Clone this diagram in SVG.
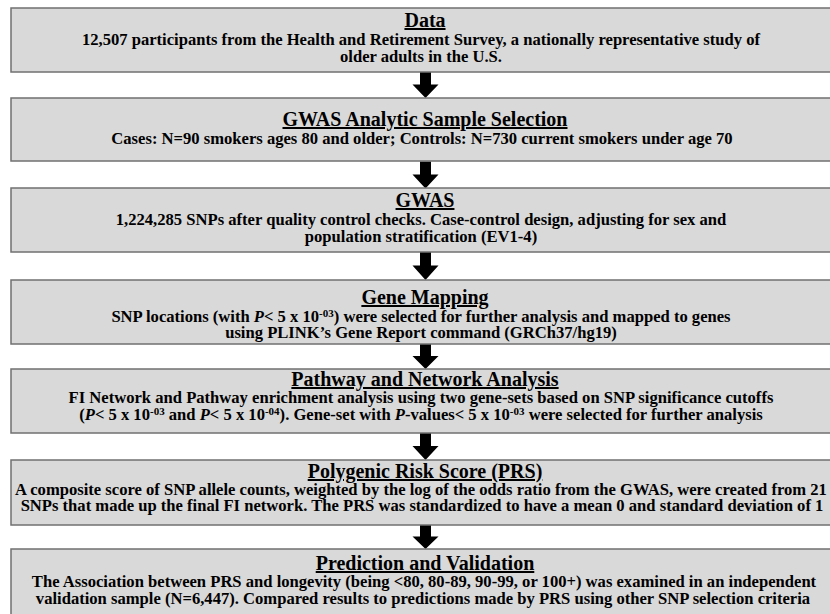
<svg xmlns="http://www.w3.org/2000/svg" width="830" height="614" viewBox="0 0 830 614">
<style>
.box{fill:#d9d9d9;stroke:#707070;stroke-width:1.5}
.t{font-family:"Liberation Serif","Times New Roman",serif;font-weight:bold;fill:#000;text-anchor:middle}
.h{font-size:20px;text-decoration:underline}
.b{font-size:16.6px}
.sup{font-size:11px}
.arr{fill:#000}
</style>
<defs>
<path id="arrow" d="M-5.5,0 H5.5 V12.5 H13 L0,26 L-13,12.5 H-5.5 Z"/>
</defs>
<rect width="830" height="614" fill="#fff"/>
<g id="connectors">
<use href="#arrow" class="arr" transform="translate(425.5,72)"/>
<use href="#arrow" class="arr" transform="translate(425.5,161.5) scale(1,1.04)"/>
<use href="#arrow" class="arr" transform="translate(425.5,252) scale(1,1.08)"/>
<use href="#arrow" class="arr" transform="translate(425.5,344) scale(1,0.96)"/>
<use href="#arrow" class="arr" transform="translate(425.5,433) scale(1,1.04)"/>
<use href="#arrow" class="arr" transform="translate(425.5,525) scale(1,0.92)"/>
</g>
<g id="data">
<rect class="box" x="11" y="8" width="840" height="64"/>
<text class="t h" x="425" y="27">Data</text>
<text class="t b" x="421" y="45">12,507 participants from the Health and Retirement Survey, a nationally representative study of</text>
<text class="t b" x="421" y="62">older adults in the U.S.</text>
</g>
<g id="sample">
<rect class="box" x="11" y="98" width="840" height="63"/>
<text class="t h" x="425" y="126">GWAS Analytic Sample Selection</text>
<text class="t b" x="422" y="144">Cases: N=90 smokers ages 80 and older; Controls: N=730 current smokers under age 70</text>
</g>
<g id="gwas">
<rect class="box" x="11" y="188" width="840" height="64"/>
<text class="t h" x="425" y="207">GWAS</text>
<text class="t b" x="421" y="225">1,224,285 SNPs after quality control checks. Case-control design, adjusting for sex and</text>
<text class="t b" x="421" y="242">population stratification (EV1-4)</text>
</g>
<g id="mapping">
<rect class="box" x="11" y="280" width="840" height="64"/>
<text class="t h" x="425" y="304">Gene Mapping</text>
<text class="t b" x="421" y="322">SNP locations (with <tspan font-style="italic">P</tspan>&lt; 5 x 10<tspan class="sup" dy="-5">-03</tspan><tspan dy="5">) were selected for further analysis and mapped to genes</tspan></text>
<text class="t b" x="421" y="338">using PLINK’s Gene Report command (GRCh37/hg19)</text>
</g>
<g id="pathway">
<rect class="box" x="11" y="369" width="840" height="64"/>
<text class="t h" x="425" y="386">Pathway and Network Analysis</text>
<text class="t b" x="421" y="403">FI Network and Pathway enrichment analysis using two gene-sets based on SNP significance cutoffs</text>
<text class="t b" x="421" y="420">(<tspan font-style="italic">P</tspan>&lt; 5 x 10<tspan class="sup" dy="-5">-03</tspan><tspan dy="5"> and </tspan><tspan font-style="italic">P</tspan>&lt; 5 x 10<tspan class="sup" dy="-5">-04</tspan><tspan dy="5">). Gene-set with </tspan><tspan font-style="italic">P</tspan>-values&lt; 5 x 10<tspan class="sup" dy="-5">-03</tspan><tspan dy="5"> were selected for further analysis</tspan></text>
</g>
<g id="prs">
<rect class="box" x="11" y="460" width="840" height="65"/>
<text class="t h" x="425" y="478">Polygenic Risk Score (PRS)</text>
<text class="t b" x="15" y="495" style="text-anchor:start">A composite score of SNP allele counts, weighted by the log of the odds ratio from the GWAS, were created from 21</text>
<text class="t b" x="422" y="511">SNPs that made up the final FI network. The PRS was standardized to have a mean 0 and standard deviation of 1</text>
</g>
<g id="prediction">
<rect class="box" x="11" y="549" width="840" height="80"/>
<text class="t h" x="425" y="570">Prediction and Validation</text>
<text class="t b" x="424" y="587">The Association between PRS and longevity (being &lt;80, 80-89, 90-99, or 100+) was examined in an independent</text>
<text class="t b" x="423" y="604">validation sample (N=6,447). Compared results to predictions made by PRS using other SNP selection criteria</text>
</g>
</svg>
